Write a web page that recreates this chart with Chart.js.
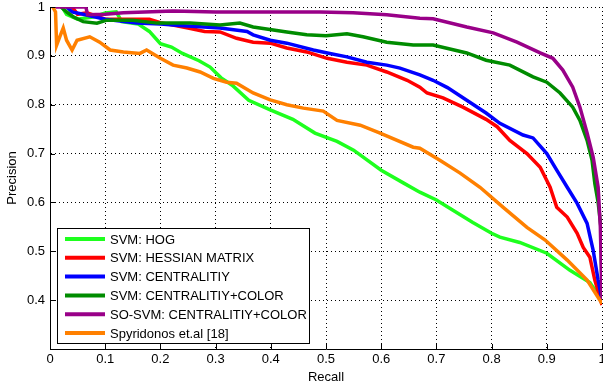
<!DOCTYPE html>
<html>
<head>
<meta charset="utf-8">
<script src="https://cdn.jsdelivr.net/npm/chart.js@4.4.1/dist/chart.umd.min.js"></script>
<style>
  body { margin: 0; background: #fff; }
  #wrap { width: 603px; height: 387px; }
</style>
</head>
<body>
<div id="wrap"><canvas id="prChart" width="603" height="387"></canvas></div>
<script>
// series names (legend order)
const seriesNames = ['SVM: HOG', 'SVM: HESSIAN MATRIX', 'SVM: CENTRALITIY',
  'SVM: CENTRALITIY+COLOR', 'SO-SVM: CENTRALITIY+COLOR', 'Spyridonos et.al [18]'];

// values
const hogRecall = [0.022, 0.03, 0.05, 0.08, 0.1, 0.12, 0.13, 0.16, 0.18, 0.2, 0.22, 0.24, 0.27, 0.29, 0.31, 0.33, 0.36, 0.4, 0.44, 0.48, 0.52, 0.55, 0.6, 0.64, 0.67, 0.7, 0.73, 0.766, 0.8, 0.815, 0.851, 0.9, 0.942, 0.978, 1.0];
const hogPrecision = [1.0, 0.985, 0.975, 0.98, 0.988, 0.99, 0.97, 0.965, 0.95, 0.925, 0.918, 0.905, 0.89, 0.877, 0.855, 0.84, 0.809, 0.789, 0.77, 0.742, 0.725, 0.707, 0.666, 0.64, 0.621, 0.605, 0.584, 0.559, 0.537, 0.529, 0.518, 0.496, 0.461, 0.436, 0.40];

const hessRecall = [0.04, 0.05, 0.067, 0.1, 0.15, 0.18, 0.2, 0.25, 0.28, 0.308, 0.338, 0.368, 0.399, 0.429, 0.465, 0.502, 0.538, 0.574, 0.61, 0.647, 0.67, 0.683, 0.712, 0.748, 0.79, 0.81, 0.833, 0.864, 0.888, 0.906, 0.918, 0.937, 0.955, 0.966, 0.978, 0.987, 0.996, 1.0];
const hessPrecision = [1.0, 0.985, 0.988, 0.975, 0.975, 0.975, 0.968, 0.957, 0.95, 0.949, 0.936, 0.928, 0.926, 0.916, 0.908, 0.895, 0.887, 0.881, 0.867, 0.85, 0.836, 0.824, 0.814, 0.795, 0.77, 0.755, 0.727, 0.70, 0.672, 0.631, 0.59, 0.57, 0.537, 0.508, 0.488, 0.441, 0.406, 0.39];

const centRecall = [0.03, 0.04, 0.06, 0.1, 0.157, 0.2, 0.235, 0.308, 0.357, 0.368, 0.399, 0.429, 0.477, 0.507, 0.538, 0.574, 0.61, 0.634, 0.67, 0.694, 0.72, 0.755, 0.79, 0.815, 0.857, 0.875, 0.9, 0.918, 0.937, 0.955, 0.973, 0.984, 0.993, 1.0];
const centPrecision = [1.0, 0.99, 0.985, 0.975, 0.967, 0.965, 0.962, 0.957, 0.95, 0.943, 0.932, 0.926, 0.912, 0.905, 0.898, 0.887, 0.881, 0.875, 0.861, 0.85, 0.835, 0.809, 0.783, 0.762, 0.738, 0.732, 0.70, 0.666, 0.631, 0.598, 0.557, 0.502, 0.441, 0.40];

const colorRecall = [0.02, 0.03, 0.042, 0.06, 0.085, 0.103, 0.15, 0.194, 0.254, 0.308, 0.344, 0.368, 0.429, 0.465, 0.5, 0.538, 0.567, 0.61, 0.658, 0.694, 0.755, 0.79, 0.833, 0.875, 0.9, 0.924, 0.947, 0.96, 0.973, 0.982, 0.987, 0.993, 0.998, 1.0];
const colorPrecision = [1.0, 0.99, 0.98, 0.97, 0.967, 0.973, 0.973, 0.967, 0.967, 0.963, 0.967, 0.959, 0.949, 0.943, 0.941, 0.945, 0.939, 0.928, 0.922, 0.922, 0.906, 0.891, 0.881, 0.857, 0.846, 0.824, 0.795, 0.768, 0.727, 0.686, 0.639, 0.60, 0.55, 0.40];

const soRecall = [0.01, 0.065, 0.068, 0.1, 0.133, 0.223, 0.3, 0.368, 0.489, 0.549, 0.61, 0.67, 0.694, 0.755, 0.803, 0.846, 0.888, 0.911, 0.929, 0.947, 0.96, 0.973, 0.984, 0.993, 0.997, 0.999, 1.0];
const soPrecision = [1.0, 1.0, 0.984, 0.985, 0.988, 0.992, 0.99, 0.99, 0.99, 0.988, 0.984, 0.977, 0.976, 0.959, 0.947, 0.928, 0.906, 0.895, 0.871, 0.836, 0.795, 0.742, 0.693, 0.631, 0.55, 0.45, 0.40];

const spyRecall = [0.005, 0.01, 0.012, 0.018, 0.024, 0.03, 0.04, 0.049, 0.072, 0.09, 0.109, 0.133, 0.163, 0.175, 0.2, 0.223, 0.248, 0.272, 0.296, 0.32, 0.338, 0.368, 0.399, 0.429, 0.459, 0.495, 0.52, 0.562, 0.598, 0.658, 0.67, 0.707, 0.743, 0.779, 0.821, 0.864, 0.897, 0.937, 0.973, 1.0];
const spyPrecision = [1.0, 0.99, 0.922, 0.94, 0.957, 0.932, 0.912, 0.932, 0.939, 0.928, 0.912, 0.908, 0.905, 0.912, 0.895, 0.881, 0.875, 0.867, 0.854, 0.846, 0.844, 0.824, 0.81, 0.80, 0.793, 0.787, 0.768, 0.758, 0.742, 0.713, 0.711, 0.686, 0.66, 0.631, 0.59, 0.549, 0.523, 0.482, 0.441, 0.393];

const xTicks = [0, 0.1, 0.2, 0.3, 0.4, 0.5, 0.6, 0.7, 0.8, 0.9, 1];
const yTicks = [0.4, 0.5, 0.6, 0.7, 0.8, 0.9, 1];

const lineColors = ['#1eff1e', '#ff0000', '#0000ff', '#008c00', '#990088', '#ff8000'];
const allRecall = [hogRecall, hessRecall, centRecall, colorRecall, soRecall, spyRecall];
const allPrecision = [hogPrecision, hessPrecision, centPrecision, colorPrecision, soPrecision, spyPrecision];

const FONT = '"Liberation Sans", Arial, sans-serif';

function toPoints(xs, ys) {
  return xs.map(function(x, i) { return { x: x, y: ys[i] }; });
}

var datasets = seriesNames.map(function(name, i) {
  return {
    label: name,
    data: toPoints(allRecall[i], allPrecision[i]),
    borderColor: lineColors[i],
    backgroundColor: lineColors[i],
    borderWidth: 3.5,
    pointRadius: 0,
    showLine: true,
    tension: 0,
    fill: false,
    order: seriesNames.length - i // later series drawn on top, like matlab
  };
});

// legend box inside the plot + inward tick marks
const boxLegend = {
  id: 'boxLegend',
  afterDatasetsDraw: function(chart) {
    var ctx = chart.ctx;
    var xs = chart.scales.x, ys = chart.scales.y;
    ctx.save();
    // ticks pointing inward
    ctx.strokeStyle = '#000';
    ctx.lineWidth = 1;
    ctx.beginPath();
    xTicks.forEach(function(v) {
      var px = Math.round(xs.getPixelForValue(v)) + 0.5;
      ctx.moveTo(px, ys.bottom);
      ctx.lineTo(px, ys.bottom - 5);
    });
    yTicks.forEach(function(v) {
      var py = Math.round(ys.getPixelForValue(v)) + 0.5;
      ctx.moveTo(xs.left, py);
      ctx.lineTo(xs.left + 5, py);
    });
    ctx.stroke();

    // legend
    var bx = 57.5, by = 228.5, bw = 252, bh = 115;
    ctx.fillStyle = '#fff';
    ctx.fillRect(bx, by, bw, bh);
    ctx.strokeRect(bx, by, bw, bh);
    ctx.font = '13px ' + FONT;
    ctx.textBaseline = 'middle';
    chart.data.datasets.forEach(function(ds, i) {
      var cy = 239 + i * 18.8;
      ctx.strokeStyle = ds.borderColor;
      ctx.lineWidth = 4;
      ctx.beginPath();
      ctx.moveTo(65, cy);
      ctx.lineTo(105, cy);
      ctx.stroke();
      ctx.fillStyle = '#000';
      ctx.fillText(ds.label, 110, cy + 1);
    });
    ctx.restore();
  }
};

var ctx = document.getElementById('prChart').getContext('2d');
var prChart = new Chart(ctx, {
  type: 'scatter',
  data: { datasets: datasets },
  options: {
    responsive: false,
    animation: false,
    layout: { padding: { top: 7, right: 1, left: 0, bottom: 0 } },
    plugins: {
      legend: { display: false },
      tooltip: { enabled: false }
    },
    scales: {
      x: {
        type: 'linear',
        min: 0, max: 1,
        afterBuildTicks: function(scale) {
          scale.ticks = xTicks.map(function(v) { return { value: v }; });
        },
        afterFit: function(scale) {
          scale.height = 38;
          scale.paddingLeft = 0;
          scale.paddingRight = 0;
        },
        ticks: {
          color: '#000',
          padding: 3,
          maxRotation: 0,
          font: { family: FONT, size: 13 },
          callback: function(v) { return String(Math.round(v * 10) / 10); }
        },
        grid: { color: '#000', lineWidth: 1, drawTicks: false },
        border: { display: true, color: '#000', width: 1, dash: [1, 3] },
        title: {
          display: true, text: 'Recall', color: '#000',
          font: { family: FONT, size: 13 },
          padding: { top: 0, bottom: 2 }
        }
      },
      y: {
        type: 'linear',
        min: 0.3, max: 1,
        afterBuildTicks: function(scale) {
          scale.ticks = [0.3].concat(yTicks).map(function(v) { return { value: v }; });
        },
        afterFit: function(scale) {
          scale.width = 50;
          scale.paddingTop = 0;
          scale.paddingBottom = 0;
        },
        ticks: {
          color: '#000',
          padding: 5,
          font: { family: FONT, size: 13 },
          callback: function(v) { return v < 0.35 ? '' : String(Math.round(v * 10) / 10); }
        },
        grid: { color: '#000', lineWidth: 1, drawTicks: false },
        border: { display: true, color: '#000', width: 1, dash: [1, 3] },
        title: {
          display: true, text: 'Precision', color: '#000',
          font: { family: FONT, size: 13 },
          padding: { top: 5, bottom: 0 }
        }
      }
    }
  },
  plugins: [boxLegend]
});
</script>
</body>
</html>
